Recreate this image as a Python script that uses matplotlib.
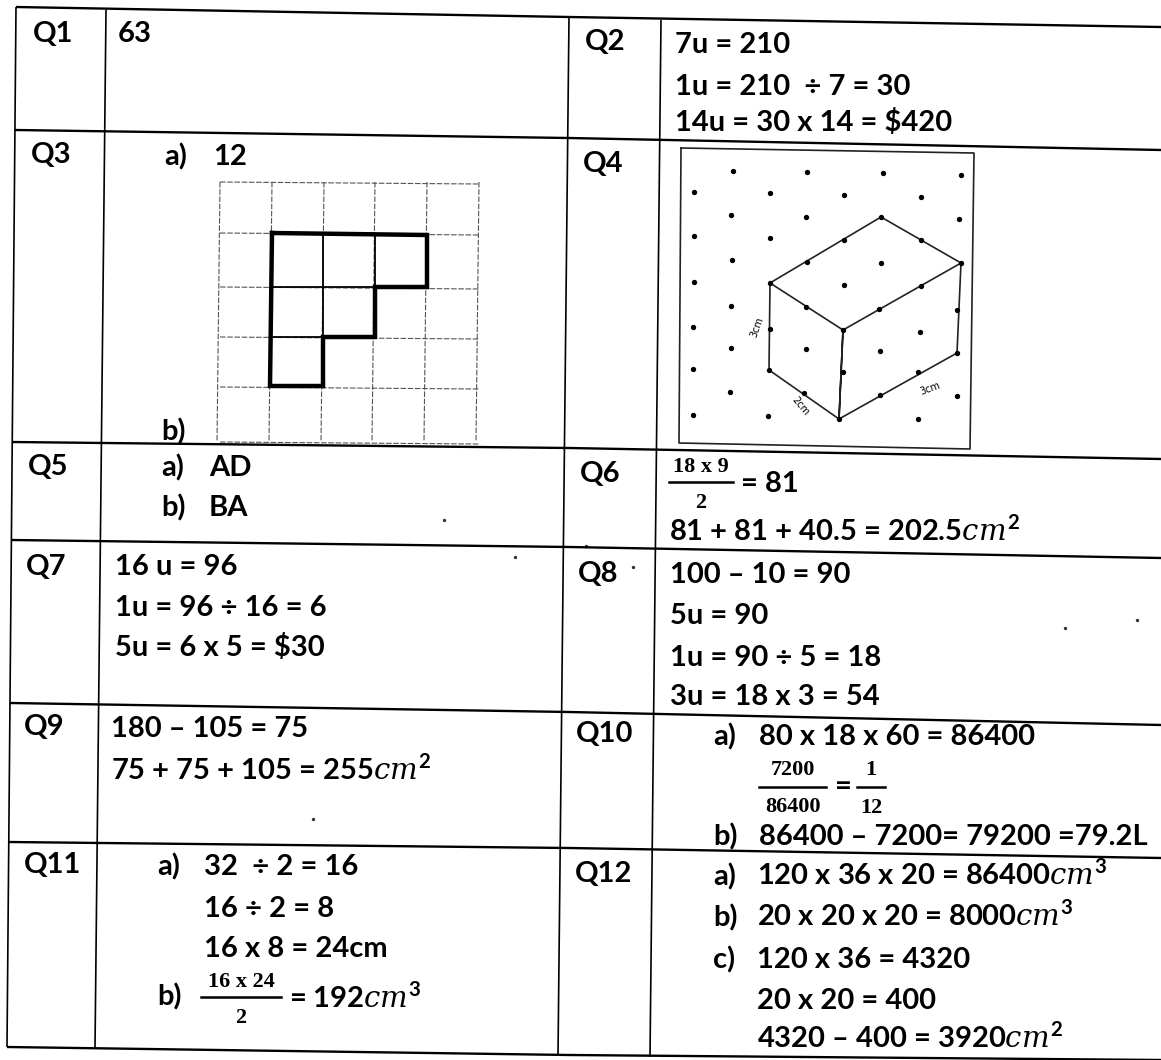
import matplotlib.pyplot as plt
import matplotlib as mpl

mpl.rcParams['font.family'] = ['Lato', 'DejaVu Sans']
mpl.rcParams['mathtext.fontset'] = 'custom'
mpl.rcParams['mathtext.rm'] = 'Lato:bold'
mpl.rcParams['mathtext.it'] = 'DejaVu Serif:italic'

W, H = 1161, 1060
FS = 21

# table rules (they run skewed)
h_left = [16, 15, 12, 11, 10, 9, 7]
h_mid = 569
h_right = 1161
h_y = [[7, 17, 27], [130, 138, 150], [442, 448, 459], [540, 547, 558],
       [703, 712, 725], [842, 848, 858], [1047, 1055, 1060]]
v_rules = [((16, 7), (7, 1047)), ((106, 10), (95, 1048)), ((569, 17), (558, 1055)),
           ((661, 20), (650, 1057))]

# (x, baseline y, text)
labels = [(33, 42, 'Q1'), (585, 50, 'Q2'), (31, 163, 'Q3'), (583, 172, 'Q4'),
          (28, 475, 'Q5'), (580, 482, 'Q6'), (26, 575, 'Q7'), (578, 582, 'Q8'),
          (24, 735, 'Q9'), (576, 742, 'Q10'), (24, 873, 'Q11'), (575, 882, 'Q12')]

answers = [(118, 42, '63'),
           (675, 53, '7u = 210'), (675, 95, '1u = 210  ÷ 7 = 30'),
           (675, 131, '14u = 30 x 14 = \\$420'),
           (164, 165, 'a)'), (213, 165, '12'), (161, 440, 'b)'),
           (161, 476, 'a)'), (209, 476, 'AD'), (161, 516, 'b)'), (209, 516, 'BA'),
           (669, 541, '81 + 81 + 40.5 = 202.5$\\mathit{cm}^{2}$'),
           (115, 575, '16 u = 96'), (115, 616, '1u = 96 ÷ 16 = 6'),
           (115, 656, '5u = 6 x 5 = \\$30'),
           (670, 583, '100 – 10 = 90'), (670, 624, '5u = 90'),
           (670, 666, '1u = 90 ÷ 5 = 18'), (670, 705, '3u = 18 x 3 = 54'),
           (111, 737, '180 – 105 = 75'), (111, 780, '75 + 75 + 105 = 255$\\mathit{cm}^{2}$'),
           (713, 745, 'a)'), (759, 745, '80 x 18 x 60 = 86400'),
           (713, 845, 'b)'), (759, 845, '86400 – 7200= 79200 =79.2L'),
           (157, 875, 'a)'), (204, 875, '32  ÷ 2 = 16'), (204, 917, '16 ÷ 2 = 8'),
           (204, 957, '16 x 8 = 24cm'), (157, 1005, 'b)'),
           (713, 885, 'a)'), (757, 885, '120 x 36 x 20 = 86400$\\mathit{cm}^{3}$'),
           (713, 926, 'b)'), (757, 926, '20 x 20 x 20 = 8000$\\mathit{cm}^{3}$'),
           (713, 968, 'c)'), (757, 968, '120 x 36 = 4320'), (757, 1009, '20 x 20 = 400'),
           (757, 1048, '4320 – 400 = 3920$\\mathit{cm}^{2}$')]

# (x_left, x_right, bar y, num baseline, den baseline, numerator, denominator)
fractions = [(669, 733, 482, 472, 508, '18 x 9', '2'),
             (759, 826, 787, 775, 812, '7200', '86400'),
             (857, 885, 787, 775, 813, '1', '12'),
             (201, 281, 997, 987, 1023, '16 x 24', '2')]
# text that follows a fraction
after_frac = [(741, 492, '= 81'), (835, 795, '='), (289, 1008, '= 192$\\mathit{cm}^{3}$')]

# Q3 grid and outline
grid_x = [220, 272, 324, 375, 427, 479]
grid_y = [182, 233, 287, 337, 387, 442]
outline_x = [272, 427, 427, 375, 375, 323, 323, 270, 272]
outline_y = [233, 235, 287, 287, 337, 337, 386, 386, 233]
outline_inner = [((272, 287), (375, 287)), ((272, 337), (323, 337)),
                 ((323, 235), (323, 337)), ((375, 235), (375, 287))]

# Q4 dot paper
box_x = [681, 974, 970, 679, 681]
box_y = [148, 153, 449, 443, 148]
dots = [(733, 171), (807, 172), (883, 173), (961, 175),
        (694, 192), (770, 193), (844, 195), (921, 197),
        (731, 215), (806, 217), (881, 217), (959, 219),
        (694, 236), (770, 238), (844, 240), (921, 240),
        (732, 260), (807, 262), (881, 263), (961, 263),
        (694, 282), (770, 283), (844, 285), (921, 286),
        (731, 306), (806, 307), (879, 309), (957, 310),
        (693, 327), (770, 329), (843, 330), (920, 332),
        (731, 348), (806, 349), (880, 351), (957, 353),
        (693, 369), (769, 370), (843, 372), (918, 372),
        (730, 392), (804, 393), (880, 395), (957, 396),
        (693, 415), (768, 416), (839, 419), (918, 419)]
solid_x = [770, 881, 961, 843, 770, 769, 839, 843, 839, 957, 961]
solid_y = [283, 217, 263, 330, 283, 370, 419, 330, 419, 353, 263]
solid_labels = [(757, 327, '3cm', 70), (800, 406, '2cm', -50), (930, 389, '3cm', 20)]

# loose marks from the scan
specks = [(444, 520), (515, 557), (633, 567), (1065, 628), (313, 819), (586, 546), (1137, 620)]

fig = plt.figure(figsize=(W / 100, H / 100), dpi=100)
ax = fig.add_axes([0, 0, 1, 1])
ax.set_xlim(0, W)
ax.set_ylim(H, 0)
ax.axis('off')

for x0, ys in zip(h_left, h_y):
    ax.plot([x0, h_mid, h_right], ys, color='black', lw=1.7, solid_capstyle='butt')
for a, b in v_rules:
    ax.plot([a[0], b[0]], [a[1], b[1]], color='black', lw=1.2, solid_capstyle='butt')

for x, y, s in labels + answers + after_frac:
    ax.text(x, y, s, fontsize=FS, fontweight='bold', va='baseline', ha='left', color='black')

for x0, x1, bar, ny, dy, num, den in fractions:
    ax.plot([x0, x1], [bar, bar], color='black', lw=1.8)
    mid = (x0 + x1) / 2
    ax.text(mid, ny, num, fontsize=16, fontweight='bold', family='Liberation Serif', ha='center', va='baseline')
    ax.text(mid, dy, den, fontsize=16, fontweight='bold', family='Liberation Serif', ha='center', va='baseline')

for x in grid_x:
    ax.plot([x, x - 3], [grid_y[0], grid_y[-1]], color='#555555', lw=0.8, ls=(0, (5, 1.5)))
for y in grid_y:
    ax.plot([grid_x[0], grid_x[-1]], [y, y + 2], color='#555555', lw=0.8, ls=(0, (5, 1.5)))
ax.plot(outline_x, outline_y, color='black', lw=3.2, solid_joinstyle='miter')
for a, b in outline_inner:
    ax.plot([a[0], b[0]], [a[1], b[1]], color='black', lw=1.3)

ax.plot(box_x, box_y, color='#222222', lw=1.2)
ax.plot(solid_x, solid_y, color='#222222', lw=1.2)
ax.scatter([d[0] for d in dots], [d[1] for d in dots], s=8, color='black', zorder=3)
for x, y, s, rot in solid_labels:
    ax.text(x, y, s, fontsize=7, rotation=rot, ha='center', va='center', family='DejaVu Sans')

ax.scatter([p[0] for p in specks], [p[1] for p in specks], s=2, color='#333333', zorder=1)

fig.savefig('out.png', dpi=100)
